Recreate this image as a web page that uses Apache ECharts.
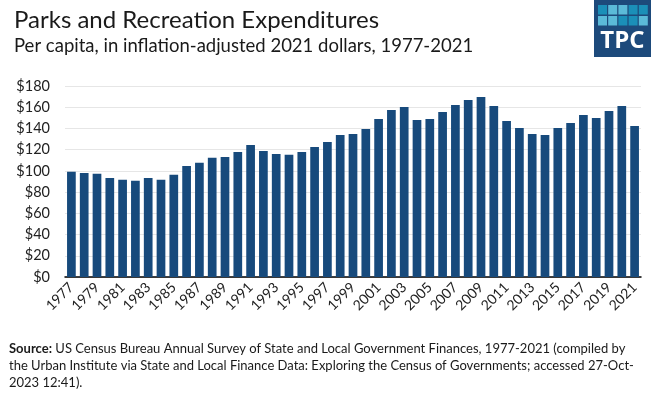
<!DOCTYPE html>
<html>
<head>
<meta charset="utf-8">
<script src="https://cdn.jsdelivr.net/npm/echarts@6/dist/echarts.min.js"></script>
<style>
html,body{margin:0;padding:0;background:#fff;}
#chart{width:655px;height:393px;}
</style>
</head>
<body>
<div id="chart"></div>
<script>
var years = ['1977','1978','1979','1980','1981','1982','1983','1984','1985','1986','1987','1988','1989','1990','1991','1992','1993','1994','1995','1996','1997','1998','1999','2000','2001','2002','2003','2004','2005','2006','2007','2008','2009','2010','2011','2012','2013','2014','2015','2016','2017','2018','2019','2020','2021'];
var spending = [99.1,98.1,97.2,93.4,91.6,90.6,93.4,91.6,96.3,104.7,107.6,112.3,113.2,117.9,124.5,118.8,116.0,115.1,117.9,122.6,127.3,133.9,134.8,139.5,148.9,157.4,160.2,148.0,148.9,155.5,162.1,166.8,169.6,161.2,147.1,140.5,134.8,133.9,140.5,145.2,152.7,149.9,156.5,161.2,142.4];
var yTicks = [0,20,40,60,80,100,120,140,160,180];

var titleText = 'Parks and Recreation Expenditures';
var subtitleText = 'Per capita, in inflation-adjusted 2021 dollars, 1977-2021';
var sourceLines = ['US Census Bureau Annual Survey of State and Local Government Finances, 1977-2021 (compiled by',
  'the Urban Institute via State and Local Finance Data: Exploring the Census of Governments; accessed 27-Oct-',
  '2023 12:41).'];

var chart = echarts.init(document.getElementById('chart'), null, {renderer:'canvas'});

var logoDark = '#5bbad8', logoMid = '#1b8fb8';
var squareColors = [logoMid, logoDark, logoDark, logoMid, logoMid, logoDark, logoDark, logoMid, logoMid, logoDark];
var logo = [{type:'rect', shape:{x:594, y:0, width:57, height:57}, style:{fill:'#1d4a7b'}}];
for (var i = 0; i < 10; i++) {
  var c = i % 5, r = Math.floor(i / 5);
  logo.push({type:'rect', shape:{x:598 + c * 10.2, y:5 + r * 11, width:9, height:9.5}, style:{fill:squareColors[i]}});
}
logo.push({type:'text', x:622.5, y:41, style:{text:'TPC', fill:'#fff', font:'bold 24px "Open Sans"', align:'center', verticalAlign:'middle'}});

chart.setOption({
  animation:false,
  title:[
    {text:titleText, left:9, top:3, textStyle:{fontFamily:'Lato', fontSize:24, fontWeight:'normal', color:'#1a1a1a'}},
    {text:subtitleText, left:9, top:32, textStyle:{fontFamily:'Lato', fontSize:18.5, fontWeight:'normal', color:'#1a1a1a'}}
  ],
  graphic: logo.concat([
    {type:'text', left:9, top:340, style:{
      text:'{b|Source:} ' + sourceLines.join('\n'),
      font:'13px Lato', fill:'#1a1a1a', lineHeight:17,
      rich:{b:{fontWeight:'bold', fontFamily:'Lato', fontSize:13, fill:'#1a1a1a'}}
    }}
  ]),
  grid:{left:65, right:14, top:86, bottom:116, containLabel:false},
  xAxis:{
    type:'category', data:years,
    axisLine:{lineStyle:{color:'#000', width:1.5}},
    axisTick:{show:false},
    axisLabel:{interval:1, rotate:45, fontFamily:'Lato', fontSize:14, color:'#222', margin:8}
  },
  yAxis:{
    type:'value', min:0, max:180, interval:20,
    axisLine:{show:false}, axisTick:{show:false},
    splitLine:{lineStyle:{color:'#e6e6e6', width:1}},
    axisLabel:{fontFamily:'Lato', fontSize:14.5, color:'#222', margin:15,
      formatter:function(v){ return yTicks.indexOf(v) >= 0 ? '$' + v : ''; }}
  },
  series:[{type:'bar', data:spending, barCategoryGap:'32%', itemStyle:{color:'#174a7c'}}]
});
</script>
</body>
</html>
